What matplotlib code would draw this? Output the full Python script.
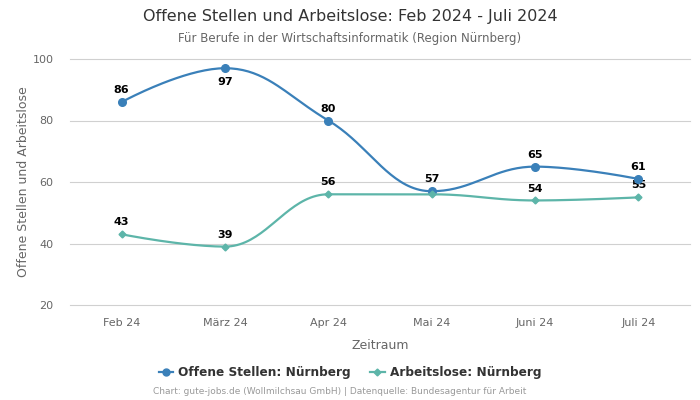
import numpy as np
import matplotlib
matplotlib.use("Agg")
import matplotlib.pyplot as plt

months = ["Feb 24", "März 24", "Apr 24", "Mai 24", "Juni 24", "Juli 24"]
offene = [86, 97, 80, 57, 65, 61]
arbeitslose = [43, 39, 56, 56, 54, 55]
label_below_offene = [False, True, False, False, False, False]
# labels hidden in the original because they would collide
show_arbeitslose_label = [True, True, True, False, True, True]

blue = "#3a80b9"
teal = "#5db5a9"


def spline(xs, ys, smoothing=1.5, n=40):
    # highcharts-like bezier spline
    denom = smoothing + 1
    m = len(xs)
    lc = [(xs[i], ys[i]) for i in range(m)]
    rc = [(xs[i], ys[i]) for i in range(m)]
    for i in range(1, m - 1):
        px, py = xs[i], ys[i]
        lx, ly = xs[i - 1], ys[i - 1]
        nx, ny = xs[i + 1], ys[i + 1]
        lcx = (smoothing * px + lx) / denom
        lcy = (smoothing * py + ly) / denom
        rcx = (smoothing * px + nx) / denom
        rcy = (smoothing * py + ny) / denom
        corr = (rcy - lcy) * (rcx - px) / (rcx - lcx) + py - rcy
        lcy += corr
        rcy += corr
        if lcy > ly and lcy > py:
            lcy = max(ly, py); rcy = 2 * py - lcy
        elif lcy < ly and lcy < py:
            lcy = min(ly, py); rcy = 2 * py - lcy
        if rcy > ny and rcy > py:
            rcy = max(ny, py); lcy = 2 * py - rcy
        elif rcy < ny and rcy < py:
            rcy = min(ny, py); lcy = 2 * py - rcy
        lc[i] = (lcx, lcy)
        rc[i] = (rcx, rcy)
    t = np.linspace(0, 1, n)[:, None]
    pts = []
    for i in range(1, m):
        p0 = np.array([xs[i - 1], ys[i - 1]])
        p1 = np.array(rc[i - 1])
        p2 = np.array(lc[i])
        p3 = np.array([xs[i], ys[i]])
        seg = (1 - t) ** 3 * p0 + 3 * (1 - t) ** 2 * t * p1 + 3 * (1 - t) * t ** 2 * p2 + t ** 3 * p3
        pts.append(seg if i == 1 else seg[1:])
    pts = np.vstack(pts)
    return pts[:, 0], pts[:, 1]


fig = plt.figure(figsize=(7, 4), dpi=100)
ax = fig.add_axes([0.1, 0.2375, 0.8857, 0.615])
x = np.arange(len(months))

sx, sy = spline(x, offene)
ax.plot(sx, sy, color=blue, lw=1.6, zorder=3)
ax.plot(x, offene, "o", color=blue, ms=5.5, zorder=4)
sx, sy = spline(x, arbeitslose)
ax.plot(sx, sy, color=teal, lw=1.6, zorder=3)
ax.plot(x, arbeitslose, "D", color=teal, ms=3.5, zorder=4)

for i, v in enumerate(offene):
    if label_below_offene[i]:
        ax.annotate(str(v), (x[i], v), xytext=(0, -6), textcoords="offset points",
                    ha="center", va="top", fontsize=8, fontweight="bold", color="black")
    else:
        ax.annotate(str(v), (x[i], v), xytext=(0, 5), textcoords="offset points",
                    ha="center", va="bottom", fontsize=8, fontweight="bold", color="black")
for i, v in enumerate(arbeitslose):
    if not show_arbeitslose_label[i]:
        continue
    ax.annotate(str(v), (x[i], v), xytext=(0, 5), textcoords="offset points",
                ha="center", va="bottom", fontsize=8, fontweight="bold", color="black")

ax.set_xlim(-0.5, len(months) - 0.5)
ax.set_ylim(20, 100)
ax.set_yticks([20, 40, 60, 80, 100])
ax.set_xticks(x)
ax.set_xticklabels(months)
ax.grid(False)
for yv in [20, 40, 60, 80, 100]:
    ax.axhline(yv, color="#d0d0d0", lw=0.8, zorder=0, clip_on=False)
for s in ax.spines.values():
    s.set_visible(False)
ax.tick_params(axis="both", length=0, labelsize=8, labelcolor="#666666")
ax.tick_params(axis="x", pad=9)
ax.tick_params(axis="y", pad=12)
ax.set_xlabel("Zeitraum", fontsize=9, color="#666666", labelpad=8)
ax.set_ylabel("Offene Stellen und Arbeitslose", fontsize=9, color="#666666", labelpad=1.5)

fig.text(0.5, 0.958, "Offene Stellen und Arbeitslose: Feb 2024 - Juli 2024",
         ha="center", va="center", fontsize=11.5, color="#333333")
fig.text(0.5, 0.903, "Für Berufe in der Wirtschaftsinformatik (Region Nürnberg)",
         ha="center", va="center", fontsize=8.5, color="#666666")

h1, = ax.plot([], [], "-o", color=blue, ms=5, lw=1.6)
h2, = ax.plot([], [], "-D", color=teal, ms=3.5, lw=1.6)
fig.legend([h1, h2], ["Offene Stellen: Nürnberg", "Arbeitslose: Nürnberg"],
           loc="center", bbox_to_anchor=(0.5, 0.068), ncol=2, frameon=False,
           prop={"size": 8.7, "weight": "bold"}, labelcolor="#333333",
           handlelength=1.2, handletextpad=0.4, columnspacing=1.6)
fig.text(0.485, 0.02, "Chart: gute-jobs.de (Wollmilchsau GmbH) | Datenquelle: Bundesagentur für Arbeit",
         ha="center", va="center", fontsize=6.5, color="#999999")

fig.savefig("out.png", dpi=100)
